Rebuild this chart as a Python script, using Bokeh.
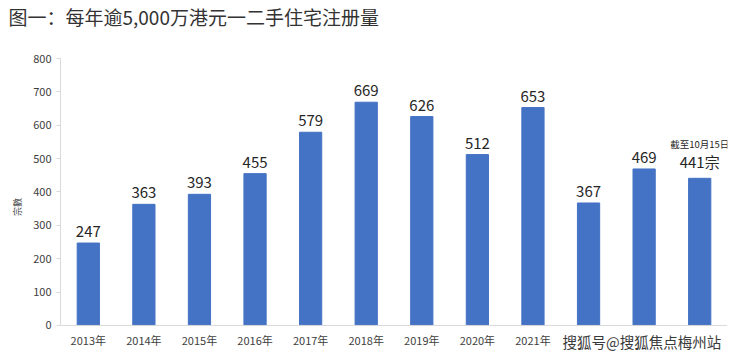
from bokeh.plotting import figure
from bokeh.models import ColumnDataSource, Label, Range1d, Span, Title
from bokeh.core.properties import value
from bokeh.embed import file_html
from bokeh.resources import INLINE

years = ["2013年", "2014年", "2015年", "2016年", "2017年", "2018年",
         "2019年", "2020年", "2021年", "2022年", "2023年", "2024年"]
counts = [247, 363, 393, 455, 579, 669, 626, 512, 653, 367, 469, 441]
bar_labels = [str(c) for c in counts[:-1]] + [f"{counts[-1]}宗"]
note = "截至10月15日"
title_text = "图一：每年逾5,000万港元一二手住宅注册量"
y_title = "宗數"
watermark = "搜狐号@搜狐焦点梅州站"
y_ticks = [0, 100, 200, 300, 400, 500, 600, 700, 800]
shown_year_labels = years[:9]   # the last three are hidden under the watermark

FONT = "Noto Sans CJK SC"

src = ColumnDataSource(dict(year=years, count=counts, label=bar_labels))

p = figure(x_range=years, y_range=Range1d(-90, 800), width=740, height=355,
           output_backend="svg", toolbar_location=None, x_axis_location=None,
           min_border_left=60, min_border_right=13, min_border_top=0,
           min_border_bottom=0)
p.outline_line_color = None
p.background_fill_color = "white"
p.border_fill_color = "white"

# spacer panel between title and frame (closest to frame)
p.add_layout(Title(text=" ", text_font_size="10px", standoff=12), "above")

p.title.text = title_text
p.title.text_font = FONT
p.title.text_font_size = "19px"
p.title.text_font_style = "normal"
p.title.text_color = "#333333"
p.title.align = "left"
p.title.offset = -52
p.title.vertical_align = "top"
p.title.standoff = 4

p.vbar(x="year", top="count", width=0.4, source=src, color="#4472C4")
p.text(x="year", y="count", text="label", source=src, y_offset=-6,
       text_align="center", text_baseline="bottom", text_font_size="15px",
       text_color="#262626", text_font=value(FONT))
p.text(x=[years[-1]], y=[counts[-1]], text=[note], y_offset=-27,
       text_align="center", text_baseline="bottom", text_font_size="9.5px",
       text_color="#262626", text_font=value(FONT))

# category axis drawn inside the frame
p.add_layout(Span(location=0, dimension="width", line_color="#d9d9d9", line_width=1))
p.text(x=shown_year_labels, y=[0] * len(shown_year_labels), text=shown_year_labels,
       y_offset=15, text_align="center", text_baseline="middle",
       text_font_size="11px", text_color="#404040", text_font=value(FONT))

p.xgrid.grid_line_color = None
p.ygrid.grid_line_color = None

p.yaxis.bounds = (0, 800)
p.yaxis.ticker = y_ticks
p.yaxis.axis_line_color = "#d9d9d9"
p.yaxis.major_tick_line_color = "#d9d9d9"
p.yaxis.major_tick_out = 4
p.yaxis.major_tick_in = 0
p.yaxis.minor_tick_line_color = None
p.yaxis.major_label_text_font_size = "11px"
p.yaxis.major_label_text_color = "#404040"
p.yaxis.major_label_text_font = FONT
p.yaxis.major_label_standoff = 5
p.yaxis.axis_label = y_title
p.yaxis.axis_label_text_font_size = "9px"
p.yaxis.axis_label_text_font_style = "normal"
p.yaxis.axis_label_text_color = "#404040"
p.yaxis.axis_label_text_font = FONT
p.yaxis.axis_label_standoff = 6

p.add_layout(Label(x=502, y=14, x_units="screen", y_units="screen",
                   text=watermark, text_font=FONT, text_font_size="14.5px",
                   text_color="#3a3a3a", text_baseline="middle"))

open("out.html", "w").write(file_html(p, INLINE))
